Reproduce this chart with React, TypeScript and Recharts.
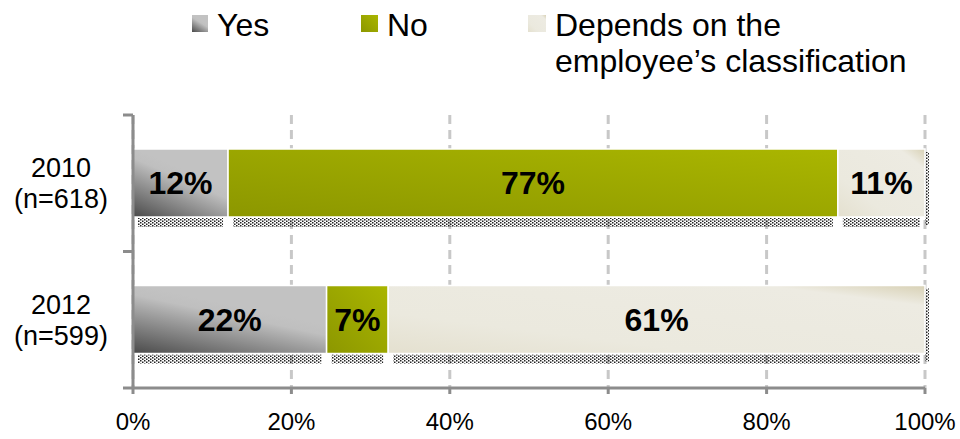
import React from 'react';
import { BarChart, Bar, XAxis, YAxis, CartesianGrid, LabelList } from 'recharts';

const categories = ['2010|(n=618)', '2012|(n=599)'];
const yesValues = [12, 22];
const noValues = [77, 7];
const dependsValues = [11, 61];
const xTicks = [0, 0.2, 0.4, 0.6, 0.8, 1];
const legendItems = [
  { key: 'yes', lines: ['Yes'], fill: 'url(#yesGrad)' },
  { key: 'no', lines: ['No'], fill: 'url(#noGrad)' },
  { key: 'depends', lines: ['Depends on the', 'employee\u2019s classification'], fill: 'url(#depGrad)' },
];

const data = categories.map((name, i) => ({
  name,
  yes: yesValues[i],
  no: noValues[i],
  depends: dependsValues[i],
}));

const FONT = '"Liberation Sans", Arial, sans-serif';
const AXIS = '#8c8c8c';

const ShadowBar = (props: any) => {
  const { x, y, width, height, fill, side } = props;
  return (
    <g>
      <rect x={x + 5} y={y + height + 1} width={Math.max(width - 10, 0)} height={9} fill="url(#dots)" />
      {side && <rect x={x + width} y={y + 3} width={4} height={height + 5} fill="url(#dots)" />}
      <rect x={x} y={y} width={width} height={height} fill={fill} stroke="#fff" strokeWidth={1.5} />
    </g>
  );
};

// category label plus the outward ticks on the band edges
const CategoryTick = ({ x, y, payload }: any) => {
  const [a, b] = String(payload.value).split('|');
  const half = payload.offset || 0;
  return (
    <g>
      <line x1={x - 10} x2={x} y1={y - half} y2={y - half} stroke={AXIS} strokeWidth={3} />
      <line x1={x - 10} x2={x} y1={y + half} y2={y + half} stroke={AXIS} strokeWidth={3} />
      <text x={61} y={y} textAnchor="middle" fontSize={27} fill="#000" fontFamily={FONT}>
        <tspan x={61} dy={-6}>{a}</tspan>
        <tspan x={61} dy={31}>{b}</tspan>
      </text>
    </g>
  );
};

const Gradients = () => (
  <>
    <linearGradient id="yesGrad" x1="0" y1="1" x2="0.45" y2="0.25">
      <stop offset="0" stopColor="#4a4a4a" />
      <stop offset="0.85" stopColor="#bfbfbf" />
      <stop offset="1" stopColor="#c2c2c2" />
    </linearGradient>
    <linearGradient id="noGrad" x1="0" y1="1" x2="1" y2="0">
      <stop offset="0" stopColor="#8c9700" />
      <stop offset="1" stopColor="#aab600" />
    </linearGradient>
    <linearGradient id="depGrad" x1="0" y1="1" x2="1" y2="0">
      <stop offset="0" stopColor="#e4e0cf" />
      <stop offset="0.3" stopColor="#ebe9de" />
      <stop offset="0.85" stopColor="#edebe2" />
      <stop offset="1" stopColor="#d8d1b5" />
    </linearGradient>
    <pattern id="dots" width="4" height="3" patternUnits="userSpaceOnUse">
      <rect x="0" y="0" width="1.5" height="1.5" fill="#222" />
      <rect x="2" y="1.5" width="1.5" height="1.5" fill="#222" />
    </pattern>
  </>
);

const LegendOverlay = () => (
  <svg width={960} height={90} style={{ position: 'absolute', left: 0, top: 0 }}>
    <defs>
      <Gradients />
    </defs>
    {[
      { mx: 192, mw: 16, tx: 217 },
      { mx: 361, mw: 17, tx: 387 },
      { mx: 528, mw: 18, tx: 555 },
    ].map((p, i) => (
      <g key={legendItems[i].key}>
        <rect x={p.mx} y={15} width={p.mw} height={17} fill={legendItems[i].fill} />
        <text x={p.tx} y={36} fontSize={32} fontFamily={FONT} fill="#000">
          {legendItems[i].lines.map((l, j) => (
            <tspan key={j} x={p.tx} dy={j === 0 ? 0 : 36}>{l}</tspan>
          ))}
        </text>
      </g>
    ))}
  </svg>
);

export default function App() {
  return (
    <div style={{ position: 'absolute', left: 0, top: 0, width: 960, height: 439, background: '#fff' }}>
      <BarChart
        width={960}
        height={439}
        data={data}
        layout="vertical"
        stackOffset="expand"
        margin={{ top: 115, right: 35, bottom: 0, left: 0 }}
        barCategoryGap={0}
      >
        <defs>
          <Gradients />
        </defs>
        <CartesianGrid horizontal={false} stroke="#c8c8c8" strokeWidth={3} strokeDasharray="9 6" />
        <XAxis
          type="number"
          domain={[0, 1]}
          ticks={xTicks}
          tickFormatter={(v: number) => `${Math.round(v * 100)}%`}
          tick={{ fontSize: 24, fill: '#000', fontFamily: FONT }}
          tickLine={{ stroke: AXIS, strokeWidth: 3 }}
          axisLine={{ stroke: AXIS, strokeWidth: 3 }}
          tickSize={6}
          tickMargin={19}
          height={51}
        />
        <YAxis
          type="category"
          dataKey="name"
          width={133}
          tick={<CategoryTick />}
          tickLine={false}
          tickSize={0}
          tickMargin={0}
          axisLine={{ stroke: AXIS, strokeWidth: 3 }}
        />
        <Bar dataKey="yes" stackId="a" barSize={68} fill="url(#yesGrad)" shape={<ShadowBar />} isAnimationActive={false}>
          <LabelList dataKey="yes" position="center" formatter={(v: any) => `${v}%`} fontSize={32} fontWeight="bold" fill="#000" fontFamily={FONT} />
        </Bar>
        <Bar dataKey="no" stackId="a" barSize={68} fill="url(#noGrad)" shape={<ShadowBar />} isAnimationActive={false}>
          <LabelList dataKey="no" position="center" formatter={(v: any) => `${v}%`} fontSize={32} fontWeight="bold" fill="#000" fontFamily={FONT} />
        </Bar>
        <Bar dataKey="depends" stackId="a" barSize={68} fill="url(#depGrad)" shape={<ShadowBar side />} isAnimationActive={false}>
          <LabelList dataKey="depends" position="center" formatter={(v: any) => `${v}%`} fontSize={32} fontWeight="bold" fill="#000" fontFamily={FONT} />
        </Bar>
      </BarChart>
      <LegendOverlay />
    </div>
  );
}
